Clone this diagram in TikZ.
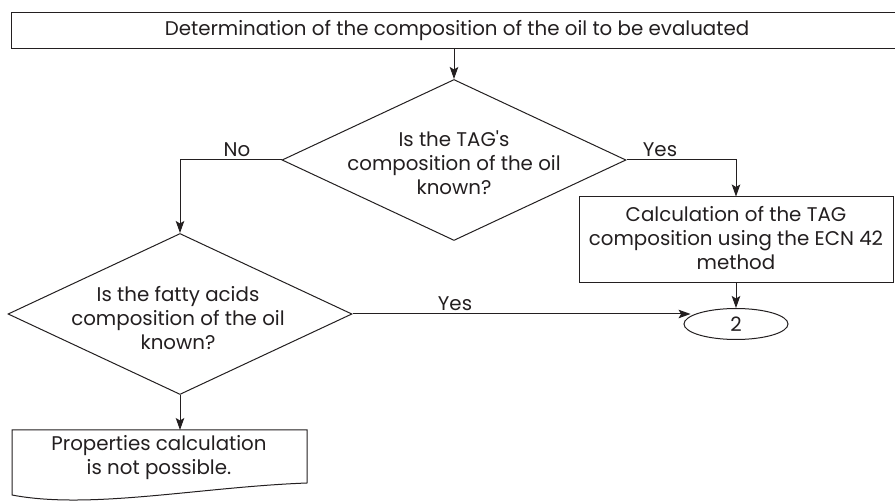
\documentclass[tikz,border=0pt]{standalone}
\usepackage{fontspec}
\setmainfont{Poppins}
\usetikzlibrary{shapes.geometric,arrows.meta}
\definecolor{ink}{RGB}{35,31,32}
\begin{document}
\begin{tikzpicture}[x=1pt,y=-1pt,
  line/.style={draw=ink,line width=1pt},
  arr/.style={line,-{Stealth[length=12pt,width=8.5pt,inset=2.5pt]}},
  txt/.style={text=ink,font=\fontsize{19.8}{24}\selectfont,align=center,inner sep=0pt},
  dia/.style={line,diamond,inner sep=0pt,minimum width=344pt,minimum height=161pt},
  lbl/.style={txt,anchor=south}]
\clip (0,0) rectangle (895,502);
\fill[white] (0,0) rectangle (895,502);
% top box
\node[line,rectangle,minimum width=894pt,minimum height=36pt,inner sep=0pt] (top) at (458,31) {};
\node[txt] (toptext) at (457,31) {Determination of the composition of the oil to be evaluated};
% decision 1
\node[dia] (d1) at (454,160) {};
\node[txt] (d1text) at (454,163) {Is the TAG\textquotesingle s\\composition of the oil\\known?};
% decision 2
\node[dia] (d2) at (180,314) {};
\node[txt] (d2text) at (178,318) {Is the fatty acids\\composition of the oil\\known?};
% calculation box
\node[line,rectangle,minimum width=314pt,minimum height=86pt,inner sep=0pt] (calc) at (736,240) {};
\node[txt] (calctext) at (736,238) {Calculation of the TAG\\composition using the ECN 42\\method};
% connector ellipse
\node[line,ellipse,minimum width=104pt,minimum height=31pt,inner sep=0pt,txt] (ell) at (736,324) {2};
% document shape
\draw[line] (12,430) -- (307,430) -- (307,483)
  .. controls (200,487) and (90,510) .. (12,495) -- cycle;
\coordinate (doctop) at (159,430);
\node[txt] (doctext) at (159,458) {Properties calculation\\is not possible.};
% connectors
\draw[arr] (top.south -| d1.north) -- (d1.north);
\draw[arr] (d1.west) -| (d2.north);
\node[lbl] (no) at (237,157) {No};
\draw[arr] (d1.east) -| (calc.north);
\node[lbl] (yes1) at (660,157) {Yes};
\draw[arr] (d2.east) -- (d2.east -| ell.170);
\node[lbl] (yes2) at (455,311) {Yes};
\draw[arr] (calc.south) -- (ell.north);
\draw[arr] (d2.south) -- (d2.south |- doctop);
\end{tikzpicture}
\end{document}
